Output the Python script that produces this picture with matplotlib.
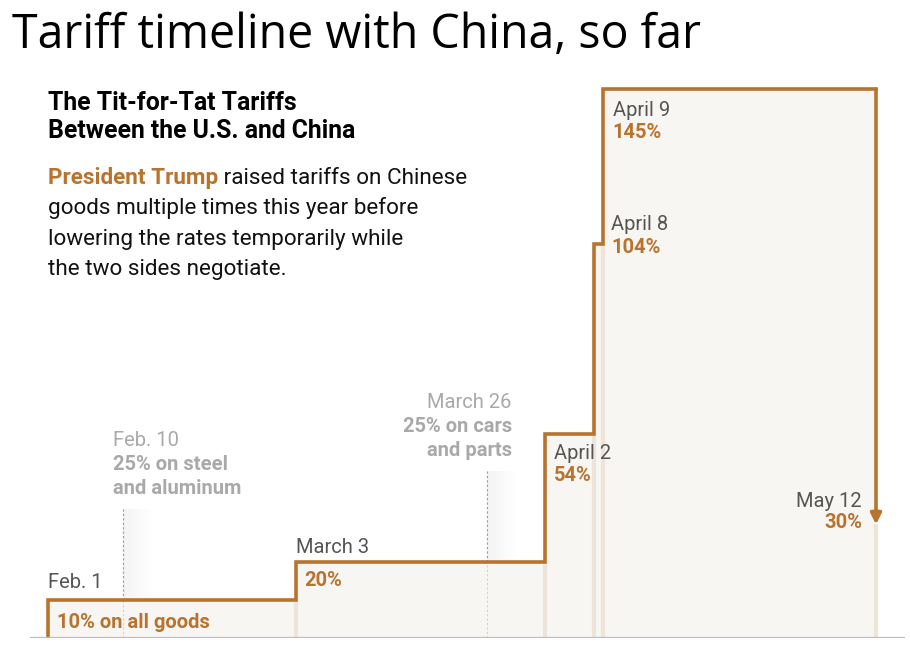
import matplotlib
matplotlib.use("Agg")
import matplotlib.pyplot as plt
import matplotlib.dates as mdates
import numpy as np
import pandas as pd

# tariff steps (US tariffs on Chinese goods, %)
step_dates = pd.to_datetime(["2025-02-01", "2025-03-03", "2025-04-02",
                             "2025-04-08", "2025-04-09"])
step_rates = [10, 20, 54, 104, 145]
end_date = pd.to_datetime("2025-05-12")
end_rate = 30

step_names = ["Feb. 1", "March 3", "April 2", "April 8", "April 9"]
step_labels = ["10% on all goods", "20%", "54%", "104%", "145%"]

# sector tariffs shown in gray
side_dates = pd.to_datetime(["2025-02-10", "2025-03-26"])
side_base = [10, 20]
side_names = ["Feb. 10", "March 26"]
side_labels = [["25% on steel", "and aluminum"], ["25% on cars", "and parts"]]

ORANGE = "#b8732f"
DARK = "#555555"
LIGHT = "#a9a9a9"
FILL = "#f8f6f3"
LBL = 14.5

plt.rcParams["font.family"] = ["Roboto", "DejaVu Sans"]

W, H = 910, 655
fig = plt.figure(figsize=(W / 100, H / 100), dpi=100)
ax = fig.add_axes([30 / W, (H - 638) / H, 875 / W, 558 / H])

x = mdates.date2num(step_dates)
xe = mdates.date2num(end_date)
xs = mdates.date2num(side_dates)

px_day = 8.28
ax.set_xlim(x[0] - 18 / px_day, x[0] + 857 / px_day)
ax.set_ylim(0, 147.4)
ax.axis("off")

# shaded area under the steps
fx = list(x) + [xe]
fy = step_rates + [step_rates[-1]]
ax.fill_between(fx, fy, step="post", color=FILL, lw=0, zorder=1)

# faint verticals under each change
prev = [step_rates[0]] + step_rates[:-1]
ax.vlines(x[1:], 0, prev[1:], color="#efe4d9", lw=3, zorder=2)
ax.vlines([xe], 0, [end_rate], color="#efe4d9", lw=3, zorder=2)

# dashed markers for sector tariffs + gray gradient
grad = np.zeros((2, 50, 4))
grad[..., :3] = 0.85
grad[..., 3] = np.linspace(0.3, 0.0, 50)[None, :]
for xd, b in zip(xs, side_base):
    ax.plot([xd, xd], [b, b + 24], ls=(0, (2, 2)), color="#999999", lw=0.8, zorder=3)
    ax.plot([xd, xd], [0, b], ls=(0, (2, 2)), color="#eccbaa", lw=0.8, zorder=3)
    ax.imshow(grad, extent=(xd, xd + 3.6, b, b + 24), aspect="auto", zorder=2,
              interpolation="bilinear")

# step line
lx = [x[0]]
ly = [0]
for i in range(len(x)):
    lx += [x[i], (x[i + 1] if i + 1 < len(x) else xe)]
    ly += [step_rates[i], step_rates[i]]
ax.plot(lx, ly, color=ORANGE, lw=2.6, solid_joinstyle="miter", zorder=4)
ax.annotate("", xy=(xe, end_rate), xytext=(xe, step_rates[-1]),
            arrowprops=dict(arrowstyle="-|>", color=ORANGE, lw=2.6,
                            mutation_scale=16, shrinkA=0, shrinkB=0), zorder=4)
ax.axhline(0, color="#bdbdbd", lw=1.6, zorder=5)

# labels on the steps: (name dx, name dy, label dx, label dy) in pixels
offs = [(0, 12, 9, -28), (0, 9, 8, -24), (9, -25, 9, -47),
        (17, 14, 17, -9), (10, -27, 10, -49)]
for xi, r, nm, lb, o in zip(x, step_rates, step_names, step_labels, offs):
    ax.annotate(nm, (xi, r), xytext=(o[0], o[1]), textcoords="offset pixels",
                fontsize=LBL, color=DARK, va="baseline", ha="left", zorder=6)
    ax.annotate(lb, (xi, r), xytext=(o[2], o[3]), textcoords="offset pixels",
                fontsize=LBL, color=ORANGE, weight="bold", va="baseline",
                ha="left", zorder=6)

ax.annotate("May 12", (xe, end_rate), xytext=(-14, 17), textcoords="offset pixels",
            fontsize=LBL, color=DARK, va="baseline", ha="right", zorder=6)
ax.annotate(f"{end_rate}%", (xe, end_rate), xytext=(-14, -4),
            textcoords="offset pixels", fontsize=LBL, color=ORANGE,
            weight="bold", va="baseline", ha="right", zorder=6)

side_dx = [(-10, "left"), (25, "right")]
for xd, b, nm, lbs, (dx, ha) in zip(xs, side_base, side_names, side_labels, side_dx):
    ax.annotate(nm, (xd, b), xytext=(dx, 154), textcoords="offset pixels",
                fontsize=LBL, color=LIGHT, va="baseline", ha=ha)
    for k, t in enumerate(lbs):
        ax.annotate(t, (xd, b), xytext=(dx, 130 - 23.5 * k), textcoords="offset pixels",
                    fontsize=LBL, color=LIGHT, weight="bold", va="baseline", ha=ha)

# titles and intro text
fig.text(12 / W, 1 - 48 / H, "Tariff timeline with China, so far",
         fontsize=33.5, family=["Open Sans", "DejaVu Sans"], color="black",
         va="baseline")
fig.text(48 / W, 1 - 110 / H, "The Tit-for-Tat Tariffs", fontsize=17.8,
         weight="bold", color="black", va="baseline")
fig.text(48 / W, 1 - 138 / H, "Between the U.S. and China", fontsize=17.8,
         weight="bold", color="black", va="baseline")

BODY = 16.2
t1 = fig.text(48 / W, 1 - 184 / H, "President Trump", fontsize=BODY,
              weight="bold", color=ORANGE, va="baseline")
r = fig.canvas.get_renderer()
bb = t1.get_window_extent(r)
fig.text(bb.x1 / W, 1 - 184 / H, " raised tariffs on Chinese", fontsize=BODY,
         color="#111111", va="baseline")
body = ["goods multiple times this year before",
        "lowering the rates temporarily while",
        "the two sides negotiate."]
for k, line in enumerate(body):
    fig.text(48 / W, 1 - (214 + 30.5 * k) / H, line, fontsize=BODY,
             color="#111111", va="baseline")

fig.savefig("out.png", dpi=100, facecolor="white")
